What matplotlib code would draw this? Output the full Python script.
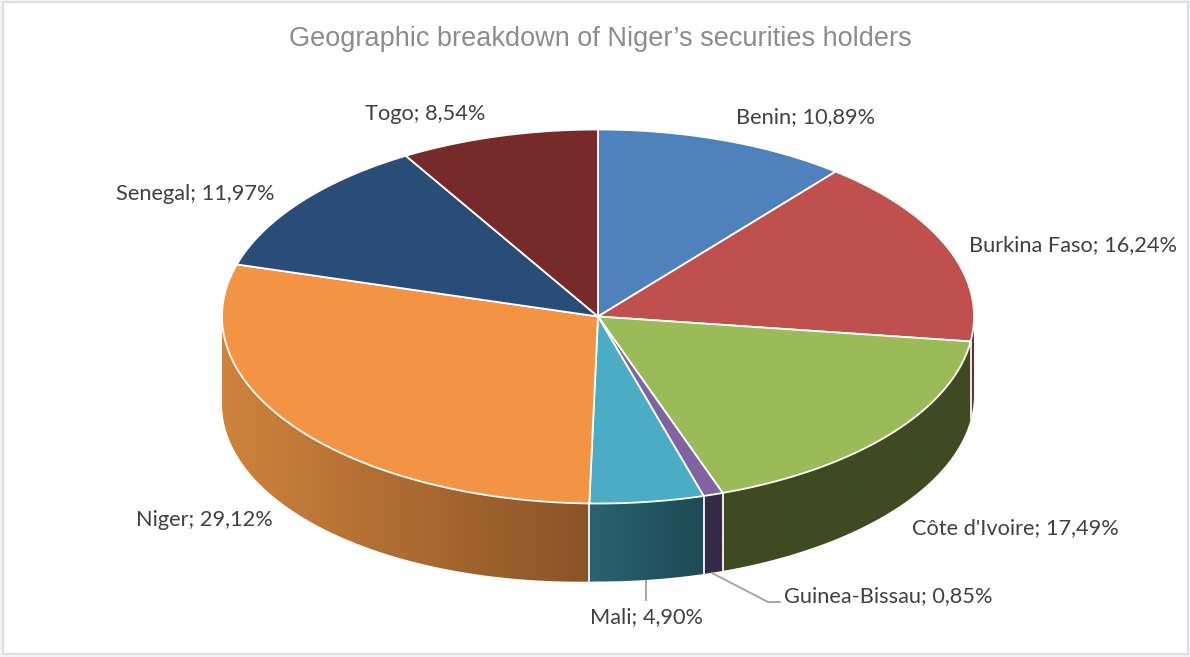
import numpy as np
import matplotlib.pyplot as plt
from matplotlib.colors import LinearSegmentedColormap
from matplotlib.patches import Polygon, Rectangle

title = "Geographic breakdown of Niger\u2019s securities holders"
countries = ['Benin', 'Burkina Faso', "C\u00f4te d'Ivoire", 'Guinea-Bissau', 'Mali', 'Niger', 'Senegal', 'Togo']
shares = [10.89, 16.24, 17.49, 0.85, 4.90, 29.12, 11.97, 8.54]
top_colors = ['#4f81bd', '#c0504d', '#9bbb59', '#8064a2', '#4bacc6', '#f39344', '#2a4d78', '#772a2a']
# left and right colour of the side wall
wall_colors = [('#3a5f8a', '#3a5f8a'), ('#6e2c2c', '#6e2c2c'), ('#3f4a22', '#3f4a22'), ('#372a48', '#372a48'),
               ('#2a636f', '#1e4a55'), ('#cf833c', '#8a5326'), ('#1c3350', '#1c3350'), ('#4f1c1c', '#4f1c1c')]
label_pos = [(806, 117.5), (1073, 245.5), (1015, 528.5), (888, 596.5), (646, 617.5), (204, 519.5), (195, 193.5), (425, 113.5)]

# ellipse of the pie in image pixels
cx, cy = 598, 316.5
rx, ry = 376, 187
depth = 78
left_extra = 9   # wall looks a bit deeper on the left

def rim(t):
    return cx + rx*np.sin(t), cy - ry*np.cos(t)

def wall_depth(t):
    return depth + left_extra*np.maximum(0, -np.sin(t))

fig = plt.figure(figsize=(11.9, 6.57), dpi=100, facecolor='#f3f4f8')
ax = fig.add_axes([0, 0, 1, 1])
ax.set_xlim(0, 1190)
ax.set_ylim(657, 0)
ax.axis('off')
ax.add_patch(Rectangle((3, 2), 1185, 652, facecolor='white', edgecolor='#dcdde2', linewidth=1.5))

edges = np.radians(np.concatenate([[0], np.cumsum(shares)]) * 3.6)

# side walls first, only the part that faces the viewer
for i in range(len(shares)):
    a = max(edges[i], np.pi/2)
    b = min(edges[i+1], 3*np.pi/2)
    if a >= b:
        continue
    t = np.linspace(a, b, 120)
    x, y = rim(t)
    px = np.concatenate([x, x[::-1]])
    py = np.concatenate([y, (y + wall_depth(t))[::-1]])
    wall = Polygon(np.column_stack([px, py]), closed=True, facecolor='none', edgecolor='none')
    ax.add_patch(wall)
    cmap = LinearSegmentedColormap.from_list('wall', list(wall_colors[i]))
    img = ax.imshow(np.linspace(0, 1, 256).reshape(1, -1), cmap=cmap, aspect='auto',
                    extent=(px.min(), px.max(), py.max(), py.min()), zorder=2)
    img.set_clip_path(wall)
    # white seam between slices
    for tt in (a, b):
        if np.pi/2 < tt < 3*np.pi/2 and np.sin(tt) > -0.5:
            xs, ys = rim(tt)
            ax.plot([xs, xs], [ys, ys + wall_depth(tt)], color='#e8e8e8', lw=1.3, zorder=3)

# top face
for i in range(len(shares)):
    t = np.linspace(edges[i], edges[i+1], 150)
    x, y = rim(t)
    pts = np.column_stack([np.r_[cx, x], np.r_[cy, y]])
    ax.add_patch(Polygon(pts, closed=True, facecolor=top_colors[i], edgecolor='white',
                         linewidth=1.3, joinstyle='round', zorder=4))

# leader lines of the two small slices
ax.plot([646, 646], [581, 600], color='#a6a6a6', lw=1.4, zorder=3)
ax.plot([712, 768, 780], [573, 602, 602], color='#a6a6a6', lw=1.4, zorder=3)

for name, share, (lx, ly) in zip(countries, shares, label_pos):
    label = '{}; {:.2f}%'.format(name, share).replace('.', ',')
    ax.text(lx, ly, label, family='Lato', fontsize=15.7, color='#404040', ha='center', va='center', zorder=5)

ax.text(600, 39, title, family='Liberation Sans', fontsize=19.5, color='#8c8c8c', ha='center', va='center')

ax.set_xlim(0, 1190)
ax.set_ylim(657, 0)
fig.savefig('out.png', dpi=100, facecolor=fig.get_facecolor())
